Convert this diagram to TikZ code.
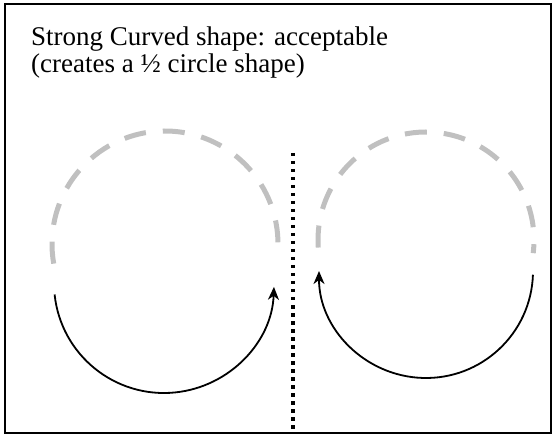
\documentclass[tikz,border=0pt]{standalone}
\usepackage{fontspec}
\setmainfont{Liberation Serif}
\usepackage{xcolor}
\usepackage{tikz}
\usetikzlibrary{arrows.meta, positioning, calc}
\definecolor{GuideGray}{RGB}{192, 192, 192}
\definecolor{TurnBlack}{RGB}{0, 0, 0}

\begin{document}
\begin{tikzpicture}[x=1pt, y=1pt,
    guide/.style={draw=GuideGray, line width=5pt, dash pattern=on 22pt off 17pt},
    turn/.style={draw=TurnBlack, line width=1.8pt, -{Stealth[length=13pt, width=11pt, inset=4pt]}},
    divider/.style={draw=black, line width=3.5pt, dash pattern=on 3.5pt off 4.5pt}]
    \useasboundingbox (0,0) rectangle (556,439);
    \draw[line width=1.5pt] (5,6) rectangle (551,435);
    \node[anchor=base west, inner sep=0pt, font=\fontsize{27}{32}\selectfont] (title) at (31,393) {Strong Curved shape: acceptable};
    \node[anchor=base west, inner sep=0pt, font=\fontsize{27}{32}\selectfont] (note) at (31,366) {(creates a ½ circle shape)};
    \coordinate (divtop) at (293,286);
    \coordinate (divbot) at (293,7);
    \draw[divider] (divtop) -- (divbot);
    \coordinate (leftguide) at (165,195);
    \coordinate (leftturn) at (164,156);
    \coordinate (rightguide) at (426,199);
    \coordinate (rightturn) at (426,168);
    \draw[guide] ($(leftguide)+(190:113)$) arc[start angle=190, end angle=-3, radius=113];
    \draw[turn] ($(leftturn)+(186:110)$) arc[start angle=186, end angle=358, radius=110];
    \draw[guide] ($(rightguide)+(184:108)$) arc[start angle=184, end angle=-7, radius=108];
    \draw[turn] ($(rightturn)+(-2:107)$) arc[start angle=-2, end angle=-180, radius=107];
  \end{tikzpicture}
\end{document}
